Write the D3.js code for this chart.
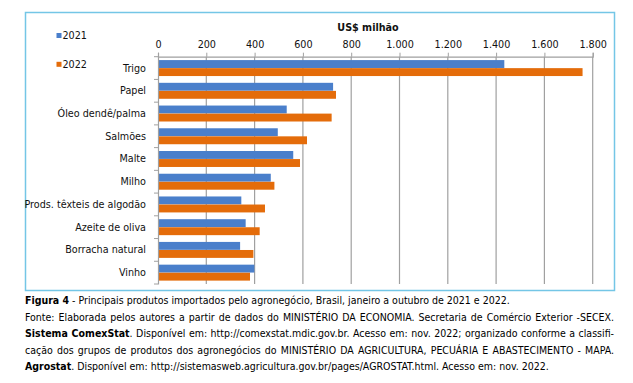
<!DOCTYPE html>
<html><head><meta charset="utf-8">
<script src="https://cdn.jsdelivr.net/npm/d3@7"></script>
<style>body{margin:0;background:#fff}svg{display:block}text{font-family:"DejaVu Sans Condensed","DejaVu Sans",sans-serif}</style>
</head><body><svg id="c" width="633" height="383"></svg>
<script>
const categories = ["Trigo","Papel","Óleo dendê/palma","Salmões","Malte","Milho","Prods. têxteis de algodão","Azeite de oliva","Borracha natural","Vinho"];
const values2021 = [1434,725,533,496,560,467,345,363,340,399];
const values2022 = [1758,737,719,617,588,482,443,421,395,381];
const seriesNames = ["2021","2022"];
const tickValues = [0,200,400,600,800,1000,1200,1400,1600,1800];
const tickLabels = ["0","200","400","600","800","1.000","1.200","1.400","1.600","1.800"];
const axisTitle = "US$ milhão";
const colors = ["#4a7fcb","#e46c0a"];
const captionLines = [
  [["Figura 4",true],[" - Principais produtos importados pelo agronegócio, Brasil, janeiro a outubro de 2021 e 2022.",false]],
  [["Fonte: Elaborada pelos autores a partir de dados do MINISTÉRIO DA ECONOMIA. Secretaria de Comércio Exterior -SECEX.",false]],
  [["Sistema ComexStat",true],[". Disponível em: http://comexstat.mdic.gov.br. Acesso em: nov. 2022; organizado conforme a classifi-",false]],
  [["cação dos grupos de produtos dos agronegócios do MINISTÉRIO DA AGRICULTURA, PECUÁRIA E ABASTECIMENTO - MAPA.",false]],
  [["Agrostat",true],[". Disponível em: http://sistemasweb.agricultura.gov.br/pages/AGROSTAT.html. Acesso em: nov. 2022.",false]]
];
const justify = [false,true,true,true,false];

const svg = d3.select("#c");
svg.append("rect").attr("x",25.5).attr("y",12.5).attr("width",589).attr("height",278)
  .attr("fill","none").attr("stroke","#74c6e6").attr("stroke-width",1.5);

const x = d3.scaleLinear().domain([0,1800]).range([158,592.7]);
const y = d3.scaleBand().domain(categories).range([56.7,284]);
const inner = d3.scaleBand().domain(seriesNames).range([0,y.bandwidth()]).paddingInner(0.02).paddingOuter(0.42);

svg.append("g").selectAll("line").data(tickValues.slice(1)).join("line")
  .attr("x1",d=>x(d)).attr("x2",d=>x(d)).attr("y1",56.7).attr("y2",284)
  .attr("stroke","#a0a0a0").attr("stroke-width",1.2);

const data = [values2021, values2022];
seriesNames.forEach((s,i)=>{
  svg.append("g").selectAll("rect").data(categories).join("rect")
    .attr("x",x(0)).attr("y",(c)=>y(c)+inner(s))
    .attr("width",(c,j)=>x(data[i][j])-x(0)).attr("height",inner.bandwidth())
    .attr("fill",colors[i]);
});

const ax = d3.axisTop(x).tickValues(tickValues).tickFormat((d,i)=>tickLabels[i]).tickSize(4).tickPadding(5);
const gx = svg.append("g").attr("transform","translate(0,56.7)").call(ax);
gx.select(".domain").attr("stroke","#a0a0a0").attr("stroke-width",1.2);
gx.selectAll(".tick line").attr("stroke","#a0a0a0");
gx.selectAll("text").attr("font-size","10.7px").attr("fill","#111").attr("font-family","DejaVu Sans Condensed");

const ay = d3.axisLeft(y).tickSize(0).tickPadding(12);
const gy = svg.append("g").attr("transform","translate(158,0)").call(ay);
gy.select(".domain").attr("stroke","#a0a0a0").attr("stroke-width",1.2);
gy.selectAll("text").attr("font-size","10.7px").attr("fill","#111").attr("font-family","DejaVu Sans Condensed");
svg.append("g").selectAll("line").data(categories.concat(["end"])).join("line")
  .attr("x1",154).attr("x2",158)
  .attr("y1",(d,i)=>56.7+i*y.step()).attr("y2",(d,i)=>56.7+i*y.step())
  .attr("stroke","#a0a0a0");

svg.append("text").attr("x",368).attr("y",31).attr("text-anchor","middle")
  .attr("font-size","10.7px").attr("font-weight","bold").attr("fill","#111").text(axisTitle);

seriesNames.forEach((s,i)=>{
  const ly = [35.5,64.3][i];
  svg.append("rect").attr("x",56.5).attr("y",ly-2.5).attr("width",5).attr("height",5).attr("fill",colors[i]);
  svg.append("text").attr("x",62.5).attr("y",ly).attr("dy","0.35em").attr("font-size","10.7px").attr("fill","#111").text(s);
});

const capY = [304,320.5,337,353.5,370];
captionLines.forEach((parts,i)=>{
  const t = svg.append("text").attr("x",25).attr("y",capY[i]).attr("font-size","10.5px").attr("fill","#000");
  parts.forEach(p=>{
    t.append("tspan").attr("font-weight",p[1]?"bold":"normal").text(p[0]);
  });
  if(justify[i]){
    const w = t.node().getComputedTextLength();
    const full = parts.map(p=>p[0]).join("");
    const n = (full.match(/ /g)||[]).length;
    const target = 614-25;
    t.attr("word-spacing",((target-w)/n)+"px");
  }
});
</script></body></html>
